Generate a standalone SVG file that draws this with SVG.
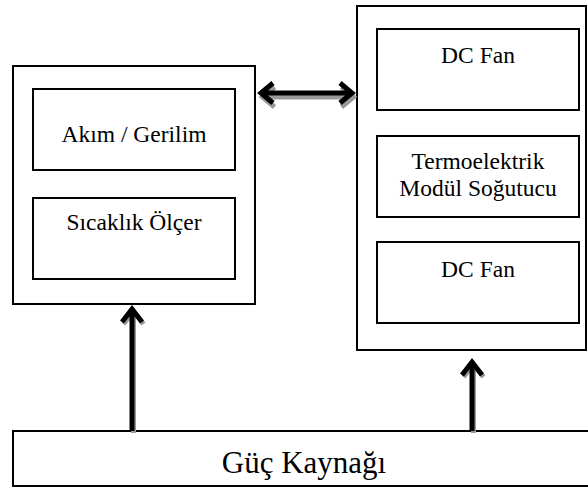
<svg xmlns="http://www.w3.org/2000/svg" width="588" height="489" viewBox="0 0 588 489">
<style>
.box{fill:#fff;stroke:#000;stroke-width:2}
.t{font-family:"Liberation Serif","Times New Roman",serif;font-size:23.5px;fill:#000;text-anchor:middle}
.big{font-size:31px}
.ln{fill:none;stroke:#000;stroke-width:5;stroke-linejoin:miter;stroke-linecap:butt}
.sh{fill:none;stroke:#9a9a9a;stroke-width:5;stroke-linejoin:miter}
</style>
<rect width="588" height="489" fill="#fff"/>
<g id="node-left">
<rect class="box" x="13" y="66" width="242" height="238"/>
</g>
<g id="node-akim">
<rect class="box" x="33" y="89" width="202" height="81"/>
<text class="t" x="134" y="142">Akım / Gerilim</text>
</g>
<g id="node-sicaklik">
<rect class="box" x="33" y="198" width="202" height="81"/>
<text class="t" x="134" y="230">Sıcaklık Ölçer</text>
</g>
<g id="node-right">
<rect class="box" x="357" y="6" width="229" height="344"/>
</g>
<g id="node-fan1">
<rect class="box" x="377" y="29" width="202" height="81"/>
<text class="t" x="478" y="63">DC Fan</text>
</g>
<g id="node-termo">
<rect class="box" x="377" y="136" width="202" height="81"/>
<text class="t" x="478" y="169">Termoelektrik</text>
<text class="t" x="478" y="196">Modül Soğutucu</text>
</g>
<g id="node-fan2">
<rect class="box" x="377" y="242" width="202" height="81"/>
<text class="t" x="478" y="277">DC Fan</text>
</g>
<g id="node-guc">
<rect class="box" x="13" y="431" width="580" height="55"/>
<text class="t big" x="304" y="473">Güç Kaynağı</text>
</g>
<g id="connectors">
<path class="sh" d="M262,95 L351,95 M273,85 L261,95 L273,105 M340,85 L352,95 L340,105" transform="translate(1.5,2)"/>
<path class="ln" d="M262,93 L351,93 M273,83 L261,93 L273,103 M340,83 L352,93 L340,103"/>
<path class="sh" d="M132,431 L132,310 M122,322 L132,309 L142,322" transform="translate(1.5,2)"/>
<path class="ln" d="M132,431 L132,310 M122,322 L132,309 L142,322"/>
<path class="sh" d="M472,431 L472,363 M462,375 L472,362 L482,375" transform="translate(1.5,2)"/>
<path class="ln" d="M472,431 L472,363 M462,375 L472,362 L482,375"/>
</g>
</svg>
